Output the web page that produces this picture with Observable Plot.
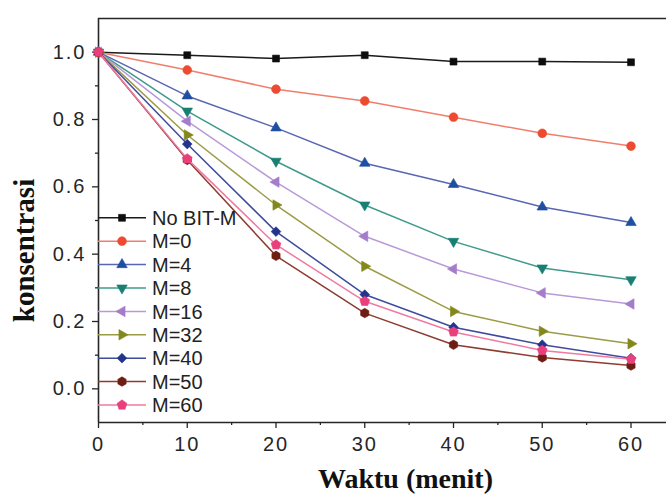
<!DOCTYPE html>
<html>
<head>
<meta charset="utf-8">
<script src="https://cdn.jsdelivr.net/npm/d3@7"></script>
<script src="https://cdn.jsdelivr.net/npm/@observablehq/plot@0.6"></script>
<style>
  body { margin: 0; background: #fff; }
  #chart svg { display: block; }
  g[aria-label="y-axis tick label"] text,
  g[aria-label="x-axis tick label"] text { letter-spacing: 2px; }
  g[aria-label="x-title"] text { letter-spacing: 1.3px; }
  g[aria-label="y-title"] text { letter-spacing: 1px; }
</style>
</head>
<body>
<div id="chart"></div>
<script>
// Time axis (minutes) and concentration series
const times = [0, 10, 20, 30, 40, 50, 60];
const seriesNames = ["No BIT-M", "M=0", "M=4", "M=8", "M=16", "M=32", "M=40", "M=50", "M=60"];
const noBitM = [1.000, 0.991, 0.981, 0.991, 0.972, 0.972, 0.970];
const m0  = [1.000, 0.947, 0.890, 0.855, 0.807, 0.759, 0.721];
const m4  = [1.000, 0.870, 0.775, 0.670, 0.607, 0.540, 0.494];
const m8  = [1.000, 0.825, 0.676, 0.546, 0.438, 0.359, 0.324];
const m16 = [1.000, 0.795, 0.614, 0.453, 0.356, 0.285, 0.252];
const m32 = [1.000, 0.754, 0.546, 0.364, 0.230, 0.171, 0.134];
const m40 = [1.000, 0.727, 0.467, 0.280, 0.183, 0.131, 0.091];
const m50 = [1.000, 0.680, 0.395, 0.225, 0.131, 0.093, 0.069];
const m60 = [1.000, 0.683, 0.428, 0.260, 0.169, 0.114, 0.088];
const seriesValues = [noBitM, m0, m4, m8, m16, m32, m40, m50, m60];

const xTicks = [0, 10, 20, 30, 40, 50, 60];
const xMinorTicks = [5, 15, 25, 35, 45, 55];
const yTicks = [0.0, 0.2, 0.4, 0.6, 0.8, 1.0];
const yMinorTicks = [0.1, 0.3, 0.5, 0.7, 0.9];
const xDomain = [0, 64];
const yDomain = [-0.1, 1.1];
const xTitle = "Waktu (menit)";
const yTitle = "konsentrasi";

// Extra marker shapes
const polygon = (n, area) => ({
  draw(ctx, size) {
    const r = Math.sqrt(size / area);
    for (let k = 0; k < n; k++) {
      const a = -Math.PI / 2 + (2 * Math.PI * k) / n;
      const px = r * Math.cos(a), py = r * Math.sin(a);
      if (k === 0) ctx.moveTo(px, py); else ctx.lineTo(px, py);
    }
    ctx.closePath();
  }
});
const hexagon = polygon(6, 1.5 * Math.sqrt(3));
const pentagon = polygon(5, 2.5 * Math.sin(2 * Math.PI / 5));

const styles = [
  {line: "#1a1a1a", fill: "#0d0d0d", symbol: d3.symbolSquare,   rotate: 0,   r: 3.9},
  {line: "#ef7f6c", fill: "#ee4a30", symbol: d3.symbolCircle,   rotate: 0,   r: 4.4},
  {line: "#5966b2", fill: "#1f4fa3", symbol: d3.symbolTriangle, rotate: 0,   r: 3.9},
  {line: "#3f9a8c", fill: "#187f72", symbol: d3.symbolTriangle, rotate: 180, r: 3.9},
  {line: "#b89ad8", fill: "#a57cc9", symbol: d3.symbolTriangle, rotate: -90, r: 3.9},
  {line: "#9c9b45", fill: "#84881c", symbol: d3.symbolTriangle, rotate: 90,  r: 3.9},
  {line: "#3f4c9c", fill: "#22348c", symbol: d3.symbolDiamond2, rotate: 0,   r: 4.4},
  {line: "#8e3b30", fill: "#6f1d12", symbol: hexagon,           rotate: 0,   r: 4.3},
  {line: "#f07aa2", fill: "#e9407c", symbol: pentagon,          rotate: 0,   r: 4.5}
];

const rows = [];
seriesNames.forEach((name, i) => {
  times.forEach((t, j) => rows.push({series: name, idx: i, time: t, value: seriesValues[i][j]}));
});

const frameColor = "#262626";
const marks = [
  Plot.ruleY([yDomain[1]], {stroke: frameColor, strokeWidth: 1.6}),
  Plot.ruleY([yDomain[0]], {stroke: frameColor, strokeWidth: 1.6}),
  Plot.ruleX([xDomain[0]], {stroke: frameColor, strokeWidth: 1.6}),
  Plot.axisY({ticks: yTicks, tickSize: 6, tickPadding: 6, tickFormat: d3.format(".1f"),
              label: null, color: frameColor, strokeWidth: 1.3, fontSize: 20}),
  Plot.axisY({ticks: yMinorTicks, tickSize: 3, text: null, label: null, color: frameColor, strokeWidth: 1.3}),
  Plot.axisX({ticks: xTicks, tickSize: 6, tickPadding: 8, tickFormat: d3.format("d"),
              label: null, color: frameColor, strokeWidth: 1.3, fontSize: 20}),
  Plot.axisX({ticks: xMinorTicks, tickSize: 3, text: null, label: null, color: frameColor, strokeWidth: 1.3})
];

seriesNames.forEach((name, i) => {
  const data = rows.filter(d => d.idx === i);
  const s = styles[i];
  marks.push(Plot.line(data, {x: "time", y: "value", stroke: s.line, strokeWidth: 1.5}));
  marks.push(Plot.dot(data, {x: "time", y: "value", symbol: s.symbol, r: s.r, rotate: s.rotate,
                             fill: s.fill, stroke: s.fill, strokeWidth: 0.6}));
});

marks.push(Plot.text([xTitle], {frameAnchor: "bottom", text: d => d, dx: 23, dy: 65,
  lineAnchor: "bottom", textAnchor: "middle", fontFamily: "Liberation Serif",
  fontWeight: "bold", fontSize: 28, fill: "#111", ariaLabel: "x-title"}));
marks.push(Plot.text([yTitle], {frameAnchor: "left", text: d => d, rotate: -90, dx: -65, dy: 30,
  lineAnchor: "bottom", textAnchor: "middle", fontFamily: "Liberation Serif",
  fontWeight: "bold", fontSize: 29, fill: "#111", ariaLabel: "y-title"}));

const plot = Plot.plot({
  width: 666,
  height: 496,
  marginLeft: 98,
  marginRight: 0,
  marginTop: 18,
  marginBottom: 74,
  x: {domain: xDomain},
  y: {domain: yDomain},
  style: {fontFamily: "Liberation Sans, Arial, sans-serif", fontSize: "19px", color: "#222", background: "#fff"},
  marks
});

// Legend inside the plot area, stacked at the lower left
{
  const [xl] = plot.scale("x").range;
  const [yb] = plot.scale("y").range;
  const rowGap = 23.4;
  const g = d3.select(plot).append("g").attr("aria-label", "legend").attr("text-anchor", "start");
  seriesNames.forEach((name, i) => {
    const s = styles[i];
    const y = yb - 17 - (seriesNames.length - 1 - i) * rowGap;
    g.append("line").attr("x1", xl).attr("x2", xl + 48).attr("y1", y).attr("y2", y)
      .attr("stroke", s.line).attr("stroke-width", 1.5);
    g.append("path")
      .attr("d", d3.symbol(s.symbol, Math.PI * s.r * s.r)())
      .attr("transform", `translate(${xl + 24},${y}) rotate(${s.rotate})`)
      .attr("fill", s.fill).attr("stroke", s.fill).attr("stroke-width", 0.6);
    g.append("text").attr("x", xl + 54).attr("y", y).attr("dy", "0.36em")
      .attr("font-family", "Liberation Sans, Arial, sans-serif").attr("font-size", 20)
      .attr("fill", "#222").text(name);
  });
}

document.getElementById("chart").append(plot);
</script>
</body>
</html>
